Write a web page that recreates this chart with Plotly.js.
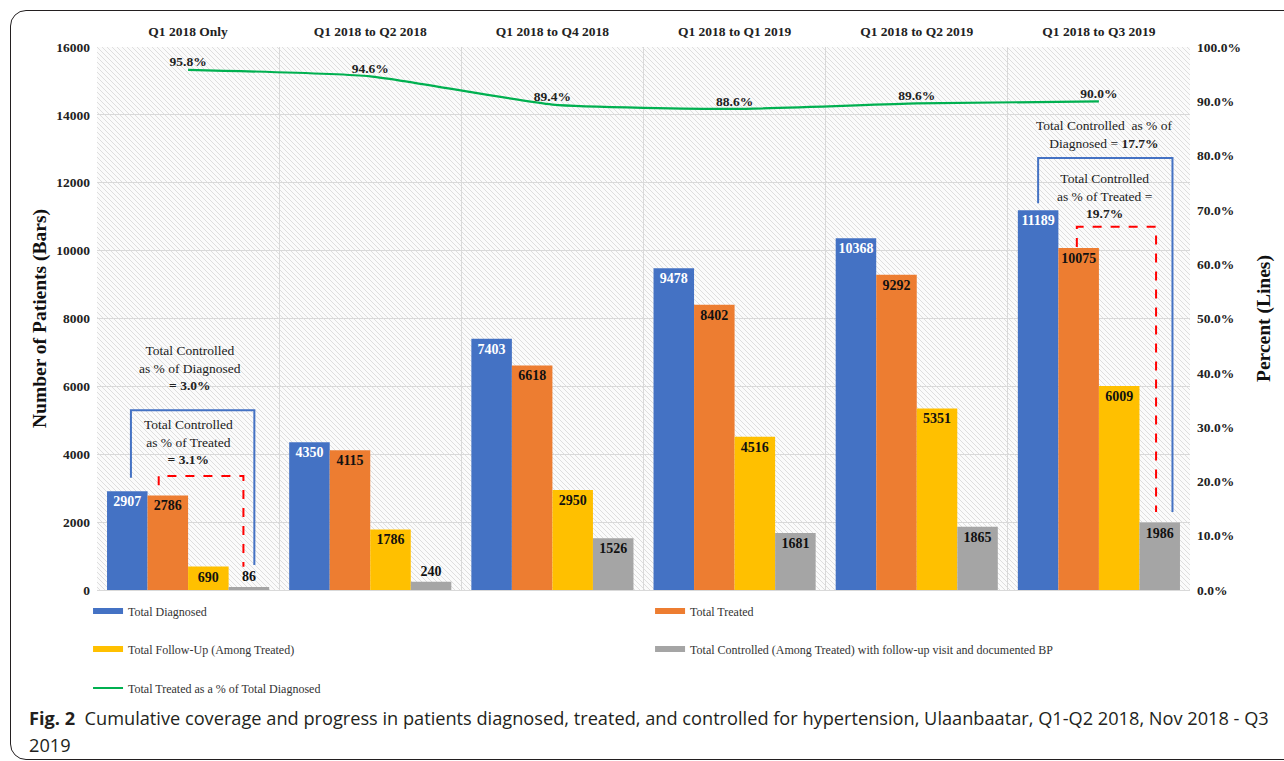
<!DOCTYPE html>
<html>
<head>
<meta charset="utf-8">
<script src="https://cdn.plot.ly/plotly-3.0.1.min.js"></script>
<style>
  html, body { margin: 0; padding: 0; width: 1284px; height: 761px; overflow: hidden; background: #fff; }
  #chart { position: absolute; left: 0; top: 0; width: 1284px; height: 761px; }
  #frame { position: absolute; left: 10px; top: 10px; width: 1320px; height: 750px; box-sizing: border-box;
           border: 1px solid #231f20; border-radius: 16px; pointer-events: none; z-index: 5; }
</style>
</head>
<body>
<div id="chart"></div>
<div id="frame"></div>
<script>
// ---- data ----
const periods = ["Q1 2018 Only", "Q1 2018 to Q2 2018", "Q1 2018 to Q4 2018", "Q1 2018 to Q1 2019", "Q1 2018 to Q2 2019", "Q1 2018 to Q3 2019"];
const diagnosed = [2907, 4350, 7403, 9478, 10368, 11189];
const treated = [2786, 4115, 6618, 8402, 9292, 10075];
const followUp = [690, 1786, 2950, 4516, 5351, 6009];
const controlled = [86, 240, 1526, 1681, 1865, 1986];
const treatedPct = [95.8, 94.6, 89.4, 88.6, 89.6, 90.0];

const seriesNames = ["Total Diagnosed", "Total Treated", "Total Follow-Up (Among Treated)",
  "Total Controlled (Among Treated) with follow-up visit and documented BP"];
const lineName = "Total Treated as a % of Total Diagnosed";
const leftTicks = [0, 2000, 4000, 6000, 8000, 10000, 12000, 14000, 16000];
const rightTicks = [0, 10, 20, 30, 40, 50, 60, 70, 80, 90, 100];

// ---- styles ----
const colors = ["#4472C4", "#ED7D31", "#FFC000", "#A5A5A5"];
const labelColors = ["#ffffff", "#111111", "#111111", "#111111"];
const serif = "Liberation Serif, Times New Roman, serif";
const BG = 0.11; // bargap
const barW = (1 - BG) / 4;
const centers = [-1.5, -0.5, 0.5, 1.5].map(k => k * barW);

const allSeries = [diagnosed, treated, followUp, controlled];
const traces = [];
allSeries.forEach((vals, s) => {
  traces.push({
    type: "bar", x: periods, y: vals, name: seriesNames[s], showlegend: false,
    marker: { color: colors[s], line: { width: 0 } },
    text: vals.map(String),
    textposition: vals.map(v => v < 500 ? "outside" : "inside"),
    insidetextanchor: "end",
    textangle: 0,
    constraintext: "none",
    cliponaxis: false,
    insidetextfont: { family: serif, size: 14, weight: "bold", color: labelColors[s] },
    outsidetextfont: { family: serif, size: 14, weight: "bold", color: "#111" },
    hoverinfo: "x+y+name"
  });
});

traces.push({
  type: "scatter", mode: "lines+text", x: periods, y: treatedPct, yaxis: "y2", name: lineName,
  line: { color: "#00B050", width: 2.2, shape: "spline", smoothing: 0.5 },
  text: treatedPct.map(v => v.toFixed(1) + "%"), textposition: "top center",
  textfont: { family: serif, size: 13.5, weight: "bold", color: "#222" },
  cliponaxis: false, legend: "legend5", showlegend: true
});

// legend proxies (wide flat swatches like the original)
const legendOf = ["legend", "legend2", "legend3", "legend4"];
seriesNames.forEach((n, s) => {
  traces.push({ type: "scatter", mode: "lines", x: [null], y: [null], name: n,
    line: { color: colors[s], width: 6 }, legend: legendOf[s], showlegend: true, hoverinfo: "skip" });
});

// ---- annotation shapes (brackets) ----
const shapes = [];
function bracket(i, xa, ya, xb, yb, yTop, color, dash) {
  shapes.push({ type: "path", xref: "x", yref: "y",
    path: `M${i + xa},${ya} L${i + xa},${yTop} L${i + xb},${yTop} L${i + xb},${yb}`,
    line: { color: color, width: 2, dash: dash } });
}
// first period
bracket(0, centers[0] + 0.02, diagnosed[0] + 400, centers[3] + 0.03, controlled[0] + 650, 5300, "#4472C4", "solid");
bracket(0, centers[1] - 0.05, treated[0] + 300, centers[3] - 0.03, controlled[0] + 600, 3360, "#FF0000", "dash");
// last period
bracket(5, centers[0], diagnosed[5] + 210, centers[3] + 0.07, controlled[5] + 310, 12730, "#4472C4", "solid");
bracket(5, centers[1] - 0.01, treated[5] + 30, centers[3] - 0.02, controlled[5] + 310, 10700, "#FF0000", "dash");

const pct = (a, b) => (a / b * 100).toFixed(1) + "%";
const annFont = { family: serif, size: 13.5, color: "#222" };
const capFont = { family: "Open Sans, Noto Sans, sans-serif", size: 18.2, color: "#231f20" };
const capX = -0.064;
const annotations = [
  { xref: "x", yref: "y", x: 0.01, y: 6540, showarrow: false, font: annFont, align: "center",
    text: `Total Controlled<br>as % of Diagnosed<br><b>= ${pct(controlled[0], diagnosed[0])}</b>` },
  { xref: "x", yref: "y", x: 0.0, y: 4360, showarrow: false, font: annFont, align: "center",
    text: `Total Controlled<br>as % of Treated<br><b>= ${pct(controlled[0], treated[0])}</b>` },
  { xref: "x", yref: "y", x: 5.03, y: 13420, showarrow: false, font: annFont, align: "center",
    text: `Total Controlled  as % of<br>Diagnosed = <b>${pct(controlled[5], diagnosed[5])}</b>` },
  { xref: "x", yref: "y", x: 5.03, y: 11620, showarrow: false, font: annFont, align: "center",
    text: `Total Controlled<br>as % of Treated =<br><b>${pct(controlled[5], treated[5])}</b>` },
  { xref: "paper", yref: "paper", x: capX, xanchor: "left", y: -0.2357, yanchor: "middle", showarrow: false,
    font: capFont, align: "left",
    text: "<b>Fig. 2</b>  Cumulative coverage and progress in patients diagnosed, treated, and controlled for hypertension, Ulaanbaatar, Q1-Q2 2018, Nov 2018 - Q3" },
  { xref: "paper", yref: "paper", x: capX, xanchor: "left", y: -0.2855, yanchor: "middle", showarrow: false,
    font: capFont, align: "left", text: "2019" }
];

// hatched plot background
const hatch = "<svg xmlns='http://www.w3.org/2000/svg' width='1093' height='543'>" +
  "<defs><pattern id='p' width='5' height='5' patternUnits='userSpaceOnUse'>" +
  "<path d='M0,0 L5,5 M-1,4 L1,6 M4,-1 L6,1' stroke='#dedede' stroke-width='1'/></pattern></defs>" +
  "<rect width='100%' height='100%' fill='#fbfbfb'/><rect width='100%' height='100%' fill='url(#p)'/></svg>";
const hatchURI = "data:image/svg+xml;charset=utf-8," + encodeURIComponent(hatch);

const tickFont = { family: serif, size: 13.5, weight: "bold", color: "#222" };
const legFont = { family: serif, size: 12, color: "#333" };
function leg(x, y) {
  return { orientation: "h", xanchor: "left", yanchor: "middle", x: x, y: y,
    font: legFont, bgcolor: "rgba(0,0,0,0)", itemclick: false, itemdoubleclick: false };
}
const col1 = -0.0082, col2 = 0.506;
const row1 = -0.0387, row2 = -0.1087, row3 = -0.1805;

const layout = {
  width: 1284, height: 761,
  margin: { l: 97, r: 94, t: 47, b: 171, pad: 0 },
  paper_bgcolor: "rgba(0,0,0,0)", plot_bgcolor: "rgba(0,0,0,0)",
  barmode: "group", bargap: BG, bargroupgap: 0,
  showlegend: true,
  xaxis: { type: "category", side: "top", tickson: "boundaries", showgrid: true, gridcolor: "#d9d9d9",
    gridwidth: 1, ticks: "", showline: false, tickfont: tickFont, ticklabelstandoff: 7, automargin: false,
    fixedrange: true },
  yaxis: { range: [0, 16000], tickvals: leftTicks, ticktext: leftTicks.map(String), showgrid: true,
    gridcolor: "#d9d9d9", zeroline: true, zerolinecolor: "#d9d9d9", zerolinewidth: 1, ticks: "",
    tickfont: tickFont, ticklabelstandoff: 6, automargin: false, fixedrange: true,
    title: { text: "Number of Patients (Bars)", font: { family: serif, size: 19.5, weight: "bold", color: "#111" }, standoff: 4 } },
  yaxis2: { overlaying: "y", side: "right", range: [0, 100], tickvals: rightTicks,
    ticktext: rightTicks.map(v => v.toFixed(1) + "%"), showgrid: false, zeroline: false, ticks: "",
    tickfont: tickFont, ticklabelstandoff: 6, automargin: false, fixedrange: true,
    title: { text: "Percent (Lines)", font: { family: serif, size: 19.5, weight: "bold", color: "#111" }, standoff: 16 } },
  legend: leg(col1, row1),
  legend2: leg(col2, row1),
  legend3: leg(col1, row2),
  legend4: leg(col2, row2),
  legend5: leg(col1, row3),
  shapes: shapes,
  annotations: annotations,
  images: [{ source: hatchURI, xref: "paper", yref: "paper", x: 0, y: 1, sizex: 1, sizey: 1,
    xanchor: "left", yanchor: "top", sizing: "stretch", layer: "below" }]
};

Plotly.newPlot("chart", traces, layout, { displayModeBar: false, staticPlot: true });
</script>
</body>
</html>
